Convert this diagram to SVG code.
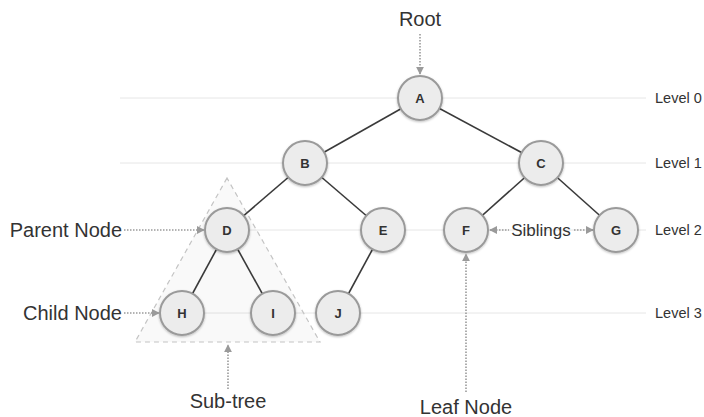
<svg xmlns="http://www.w3.org/2000/svg" width="704" height="417" viewBox="0 0 704 417">
<style>
text{font-family:"Liberation Sans",Arial,sans-serif;fill:#333}
.lbl{font-size:20px}
.lvl{font-size:14.5px}
.nt{font-size:13px;font-weight:bold;text-anchor:middle;dominant-baseline:central;fill:#333}
.node circle{fill:#ececec;stroke:#9a9a9a;stroke-width:2}
.level{stroke:#e6e6e6;stroke-width:1}
.edge{stroke:#3a3a3a;stroke-width:1.6}
.dot{stroke:#9a9a9a;stroke-width:1.6;stroke-dasharray:1.5 1.5;fill:none}
</style>
<defs>
<marker id="ah" viewBox="0 0 10 10" refX="9" refY="5" markerWidth="5" markerHeight="5" orient="auto-start-reverse" markerUnits="strokeWidth">
<path d="M0,0 L10,5 L0,10 z" fill="#9a9a9a"/>
</marker>
<filter id="sh" x="-20%" y="-20%" width="140%" height="150%">
<feDropShadow dx="0" dy="1" stdDeviation="1" flood-color="#000" flood-opacity="0.25"/>
</filter>
</defs>
<g id="levels">
<line class="level" x1="120" y1="98" x2="646" y2="98"/>
<line class="level" x1="120" y1="163" x2="646" y2="163"/>
<line class="level" x1="205" y1="230" x2="646" y2="230"/>
<line class="level" x1="160" y1="313" x2="646" y2="313"/>
<text class="lvl" x="655" y="103">Level 0</text>
<text class="lvl" x="655" y="168">Level 1</text>
<text class="lvl" x="655" y="235">Level 2</text>
<text class="lvl" x="655" y="318">Level 3</text>
</g>
<g id="subtree">
<polygon points="227,178 135,342 320,342" fill="#000" fill-opacity="0.025" stroke="#c4c4c4" stroke-width="1.2" stroke-dasharray="5 4"/>
</g>
<g id="connectors">
<line class="edge" x1="420" y1="98" x2="305" y2="163"/>
<line class="edge" x1="420" y1="98" x2="541" y2="163"/>
<line class="edge" x1="305" y1="163" x2="227" y2="230"/>
<line class="edge" x1="305" y1="163" x2="383" y2="230"/>
<line class="edge" x1="541" y1="163" x2="466" y2="230"/>
<line class="edge" x1="541" y1="163" x2="616" y2="230"/>
<line class="edge" x1="227" y1="230" x2="182" y2="313"/>
<line class="edge" x1="227" y1="230" x2="273" y2="313"/>
<line class="edge" x1="383" y1="230" x2="338" y2="313"/>
<line class="dot" x1="420" y1="34" x2="420" y2="74" marker-end="url(#ah)"/>
<line class="dot" x1="124" y1="230" x2="204" y2="230" marker-end="url(#ah)"/>
<line class="dot" x1="124" y1="313" x2="159" y2="313" marker-end="url(#ah)"/>
<line class="dot" x1="490" y1="230" x2="509" y2="230" marker-start="url(#ah)"/>
<line class="dot" x1="574" y1="230" x2="593" y2="230" marker-end="url(#ah)"/>
<line class="dot" x1="228" y1="389" x2="228" y2="345" marker-end="url(#ah)"/>
<line class="dot" x1="466" y1="392" x2="466" y2="254" marker-end="url(#ah)"/>
</g>
<g id="node-A" class="node"><circle cx="420" cy="98" r="22" filter="url(#sh)"/><text class="nt" x="420" y="98">A</text></g>
<g id="node-B" class="node"><circle cx="305" cy="163" r="22" filter="url(#sh)"/><text class="nt" x="305" y="163">B</text></g>
<g id="node-C" class="node"><circle cx="541" cy="163" r="22" filter="url(#sh)"/><text class="nt" x="541" y="163">C</text></g>
<g id="node-D" class="node"><circle cx="227" cy="230" r="22" filter="url(#sh)"/><text class="nt" x="227" y="230">D</text></g>
<g id="node-E" class="node"><circle cx="383" cy="230" r="22" filter="url(#sh)"/><text class="nt" x="383" y="230">E</text></g>
<g id="node-F" class="node"><circle cx="466" cy="230" r="22" filter="url(#sh)"/><text class="nt" x="466" y="230">F</text></g>
<g id="node-G" class="node"><circle cx="616" cy="230" r="22" filter="url(#sh)"/><text class="nt" x="616" y="230">G</text></g>
<g id="node-H" class="node"><circle cx="182" cy="313" r="22" filter="url(#sh)"/><text class="nt" x="182" y="313">H</text></g>
<g id="node-I" class="node"><circle cx="273" cy="313" r="22" filter="url(#sh)"/><text class="nt" x="273" y="313">I</text></g>
<g id="node-J" class="node"><circle cx="338" cy="313" r="22" filter="url(#sh)"/><text class="nt" x="338" y="313">J</text></g>
<g id="labels">
<text class="lbl" x="420" y="26" text-anchor="middle">Root</text>
<text class="lbl" x="122" y="237" text-anchor="end">Parent Node</text>
<text class="lbl" x="122" y="320" text-anchor="end">Child Node</text>
<text class="lbl" x="541" y="236" text-anchor="middle" style="font-size:17px">Siblings</text>
<text class="lbl" x="228" y="408" text-anchor="middle">Sub-tree</text>
<text class="lbl" x="466" y="414" text-anchor="middle">Leaf Node</text>
</g>
</svg>
